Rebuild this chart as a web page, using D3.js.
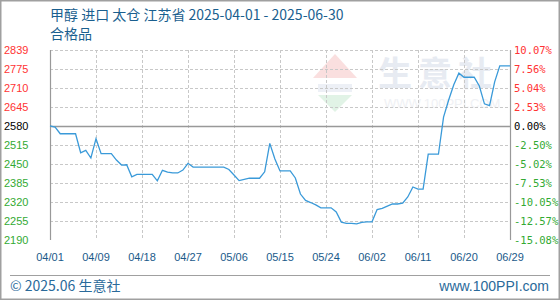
<!DOCTYPE html>
<html><head><meta charset="utf-8">
<script src="https://cdn.jsdelivr.net/npm/d3@7"></script>
<style>
html,body{margin:0;padding:0;background:#fff;}
svg{display:block;}
</style></head>
<body>
<svg id="chart" width="560" height="300"></svg>
<script>
const titleLine1 = "甲醇 进口 太仓 江苏省 2025-04-01 - 2025-06-30";
const titleLine2 = "合格品";
const startDate = "2025-04-01";
const prices = [
  2580,2576,2553,2553,2553,2553,2488,2496,2470,2536,
  2485,2485,2485,2463,2446,2447,2406,2414,2414,2414,
  2414,2392,2428,2422,2419,2419,2429,2452,2439,2439,
  2439,2439,2439,2439,2439,2431,2412,2393,2397,2401,
  2401,2401,2423,2520,2467,2426,2426,2426,2402,2347,
  2325,2318,2310,2300,2300,2300,2286,2251,2247,2247,
  2245,2250,2252,2252,2294,2298,2306,2313,2313,2316,
  2337,2371,2364,2364,2483,2483,2483,2610,2668,2720,
  2760,2746,2746,2746,2716,2655,2649,2730,2785,2785,2785
];
const yTickValues = [2839,2774.1,2709.2,2644.3,2579.4,2514.5,2449.6,2384.7,2319.8,2254.9,2190];
const yLeftLabels = ["2839","2775","2710","2645","2580","2515","2450","2385","2320","2255","2190"];
const yRightLabels = ["10.07%","7.56%","5.04%","2.53%","0.00%","-2.50%","-5.02%","-7.53%","-10.05%","-12.57%","-15.08%"];
const xTickIndex = [0,9,18,27,36,45,54,63,72,81,90];
const xTickLabels = ["04/01","04/09","04/18","04/27","05/06","05/15","05/24","06/02","06/11","06/20","06/29"];
const footerLeft = "© 2025.06 生意社";
const footerRight = "www.100PPI.com";

const svg = d3.select("#chart");
const W = 560, H = 300;
const m = {left:50, right:510, top:50, bottom:240};
const parse = d3.timeParse("%Y-%m-%d");
const d0 = parse(startDate);
const dates = prices.map((_, i) => d3.timeDay.offset(d0, i));
const data = prices.map((v, i) => ({date: dates[i], v}));

const x = d3.scaleTime().domain([dates[0], dates[dates.length-1]]).range([m.left, m.right]);
const y = d3.scaleLinear().domain([2190, 2839]).range([m.bottom, m.top]);

// outer border
svg.append("rect").attr("x",0.75).attr("y",0.75).attr("width",W-1.5).attr("height",H-1.5)
  .attr("fill","#fff").attr("stroke","#a0a0a0").attr("stroke-width",1.5);

// watermark
const wm = svg.append("g").attr("opacity",0.55);
wm.append("path").attr("d","M313,78 L335,54 L357,78 Z").attr("fill","#f6c6c6");
wm.append("path").attr("d","M318,84 L352,84 L352,92 L318,92 Z").attr("fill","#dfe5ef");
wm.append("path").attr("d","M318,95 L352,95 L335,112 Z").attr("fill","#c9ebd2");
wm.append("text").attr("x",378).attr("y",86).attr("font-family","Noto Sans CJK SC")
  .attr("font-size",34).attr("font-weight","bold").attr("fill","#d5dbe8").attr("letter-spacing",6).text("生意社");
wm.append("text").attr("x",384).attr("y",108).attr("font-family","Liberation Sans")
  .attr("font-size",13).attr("fill","#e3e6ec").text("WWW.100PPI.COM");

// gridlines
const grid = svg.append("g");
yTickValues.forEach((v, i) => {
  if (i === yTickValues.length-1) return;
  grid.append("line").attr("x1",m.left).attr("x2",m.right)
    .attr("y1",Math.round(y(v))+0.5).attr("y2",Math.round(y(v))+0.5)
    .attr("stroke","#c8c8c8").attr("stroke-dasharray","3,2");
});
xTickIndex.forEach(i => {
  const px = Math.round(x(dates[i]))+0.5;
  grid.append("line").attr("x1",px).attr("x2",px).attr("y1",m.top).attr("y2",m.bottom)
    .attr("stroke","#c8c8c8").attr("stroke-dasharray","3,2");
});
// plot borders
svg.append("line").attr("x1",m.left+0.5).attr("x2",m.left+0.5).attr("y1",m.top).attr("y2",m.bottom).attr("stroke","#999").attr("stroke-width",1.2);
svg.append("line").attr("x1",m.right+0.5).attr("x2",m.right+0.5).attr("y1",m.top).attr("y2",m.bottom).attr("stroke","#999").attr("stroke-width",1.2);
// baseline
svg.append("line").attr("x1",m.left).attr("x2",m.right)
  .attr("y1",Math.round(y(yTickValues[4]))+0.5).attr("y2",Math.round(y(yTickValues[4]))+0.5)
  .attr("stroke","#999").attr("stroke-width",1.5);

// y labels
function col(i){ return i < 4 ? "#ff3333" : (i === 4 ? "#000" : "#33aa33"); }
const yl = svg.append("g").attr("font-family","Liberation Sans").attr("font-size",11);
yTickValues.forEach((v, i) => {
  yl.append("text").attr("x",4).attr("y",y(v)).attr("dy","0.35em").attr("fill",col(i)).text(yLeftLabels[i]);
});
const yr = svg.append("g").attr("font-family","DejaVu Sans Mono").attr("font-size",10.5);
yTickValues.forEach((v, i) => {
  yr.append("text").attr("x",514).attr("y",y(v)).attr("dy","0.35em").attr("fill",col(i)).text(yRightLabels[i]);
});

// x labels
const xl = svg.append("g").attr("font-family","Liberation Sans").attr("font-size",11).attr("fill","#1a5a8a");
xTickIndex.forEach((idx, k) => {
  xl.append("text").attr("x",x(dates[idx])).attr("y",257).attr("dy","0.35em")
    .attr("text-anchor","middle").text(xTickLabels[k]);
});

// line
const line = d3.line().x(d => x(d.date)).y(d => y(d.v));
svg.append("path").datum(data).attr("d",line).attr("fill","none")
  .attr("stroke","#3a9ad9").attr("stroke-width",1.3);

// title
const t = svg.append("g").attr("font-family","Noto Sans CJK SC").attr("font-size",14).attr("fill","#1a5f8f");
t.append("text").attr("x",50).attr("y",20).text(titleLine1);
t.append("text").attr("x",50).attr("y",39).text(titleLine2);

// footer
svg.append("line").attr("x1",10).attr("x2",550).attr("y1",275.5).attr("y2",275.5).attr("stroke","#a0a0a0");
svg.append("text").attr("x",10).attr("y",291).attr("font-family","Noto Sans CJK SC").attr("font-size",14)
  .attr("fill","#2a6a9a").text(footerLeft);
svg.append("text").attr("x",549).attr("y",291).attr("text-anchor","end").attr("font-family","Liberation Sans")
  .attr("font-size",14).attr("fill","#2a6a9a").text(footerRight);
</script>
</body></html>
